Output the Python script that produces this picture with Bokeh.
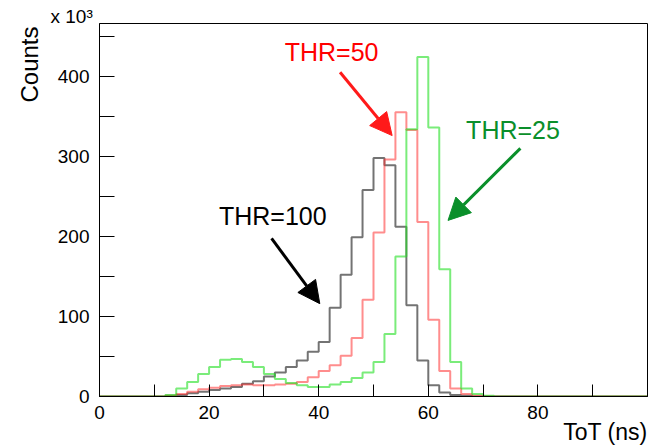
from bokeh.plotting import figure
from bokeh.embed import file_html
from bokeh.resources import INLINE
from bokeh.models import Label, Arrow, NormalHead, Range1d, FixedTicker, Title

# bin left edges (ns), 2 ns wide bins
bin_left = list(range(10, 72, 2))
thr100 = [0, 1, 2, 4, 6, 8, 10, 12, 16, 19, 25, 30, 37, 45, 56, 68, 111, 152, 199, 258,
          298, 289, 212, 114, 45, 14, 5, 2, 1, 0, 0]
thr50 = [0, 1, 3, 6, 9, 11, 13, 14, 15, 14, 14, 15, 16, 18, 24, 32, 39, 51, 73, 121,
         205, 296, 355, 333, 218, 96, 32, 10, 3, 1, 0]
thr25 = [0, 2, 10, 18, 28, 37, 46, 47, 43, 37, 28, 22, 17, 14, 12, 12, 15, 18, 23, 30,
         43, 78, 175, 334, 424, 336, 159, 43, 10, 3, 1]

x_ticks = [0, 10, 20, 30, 40, 50, 60, 70, 80, 90, 100]
x_tick_labels = {10: "", 30: "", 50: "", 70: "", 90: "", 100: ""}
y_ticks = [0, 50, 100, 150, 200, 250, 300, 350, 400, 450]
y_tick_labels = {50: "", 150: "", 250: "", 350: "", 450: ""}

FONT = "Liberation Sans"

p = figure(width=656, height=446, output_backend="svg", toolbar_location=None,
           x_range=Range1d(0, 100), y_range=Range1d(0, 466),
           min_border_left=99, min_border_right=9, min_border_top=23, min_border_bottom=50)
p.background_fill_color = "white"
p.border_fill_color = "white"
p.outline_line_color = "black"
p.outline_line_width = 1
p.xgrid.visible = False
p.ygrid.visible = False

for ax, ticks, overrides, maj, mn in ((p.xaxis[0], x_ticks, x_tick_labels, 12, 6),
                                      (p.yaxis[0], y_ticks, y_tick_labels, 15, 7)):
    ax.ticker = FixedTicker(ticks=ticks, num_minor_ticks=5)
    ax.major_label_overrides = {k: v for k, v in overrides.items()}
    ax.major_tick_in = maj
    ax.major_tick_out = 0
    ax.minor_tick_in = mn
    ax.minor_tick_out = 0
    ax.axis_line_color = "black"
    ax.major_tick_line_color = "black"
    ax.minor_tick_line_color = "black"
    ax.major_label_text_font = FONT
    ax.major_label_text_font_size = "19px"
    ax.major_label_text_color = "black"
p.xaxis[0].major_label_standoff = 9
p.yaxis[0].major_label_standoff = 10


def step_series(counts):
    xs = [0] + bin_left + [bin_left[-1] + 2, 100]
    ys = [0] + counts + [0, 0]
    return xs, ys


for counts, color, alpha in ((thr100, "black", 0.55), (thr50, "#ff3030", 0.55),
                             (thr25, "#22e022", 0.6)):
    xs, ys = step_series(counts)
    p.step(xs, ys, mode="after", line_color=color, line_alpha=alpha, line_width=2)

# annotations
texts = [("THR=50", 33.8, 430, "#ff0000"), ("THR=100", 21.8, 226, "black"),
         ("THR=25", 66.9, 332.5, "#0a8f2a")]
for t, x, y, c in texts:
    p.add_layout(Label(x=x, y=y, text=t, text_color=c, text_font=FONT,
                       text_font_size="25px", text_baseline="middle", text_align="left"))

arrows = [(43.9, 405, 53.4, 326, "#ff1a1a"), (31.4, 197.5, 40.2, 116, "black"),
          (76.8, 310, 63.6, 220, "#0a8f2a")]
for x0, y0, x1, y1, c in arrows:
    p.add_layout(Arrow(x_start=x0, y_start=y0, x_end=x1, y_end=y1, line_color=c, line_width=3,
                       end=NormalHead(size=22, fill_color=c, line_color=c)))

p.add_layout(Title(text="ToT (ns)", align="right", text_font=FONT, text_font_size="23px",
                   text_font_style="normal", text_color="black", standoff=-9), "below")
p.add_layout(Title(text="Counts", align="right", offset=3, text_font=FONT, text_font_size="24px",
                   text_font_style="normal", text_color="black", standoff=24), "left")
p.add_layout(Title(text="x 10³", align="left", offset=-49, text_font=FONT,
                   text_font_size="19px", text_font_style="normal", text_color="black",
                   standoff=-6), "above")

open("out.html", "w").write(file_html(p, INLINE))
